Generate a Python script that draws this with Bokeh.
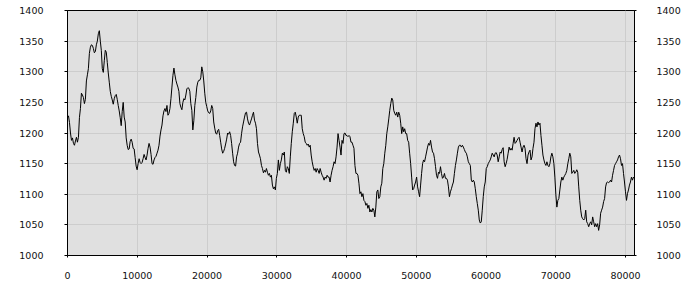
from bokeh.plotting import figure
from bokeh.models import LinearAxis, SingleIntervalTicker, Range1d
from bokeh.embed import file_html
from bokeh.resources import INLINE

# sample spacing along the x axis (data units per sample)
sample_step = 142.6

values_a = [1225, 1228, 1217, 1200, 1188, 1192, 1183, 1180, 1187, 1193, 1185, 1193, 1225, 1240, 1265, 1262,
            1258, 1248, 1255, 1285, 1295, 1305, 1330, 1340, 1344, 1343, 1338, 1331, 1333, 1344, 1350, 1362,
            1367, 1350, 1335, 1305, 1299, 1318, 1335, 1332, 1315, 1298, 1283, 1268, 1260, 1254, 1247, 1256,
            1261, 1263, 1255, 1245, 1236, 1225, 1212, 1235, 1250, 1226, 1218, 1192, 1180, 1173, 1174, 1186,
            1190, 1185, 1175, 1174, 1160, 1146, 1140, 1150, 1158, 1152, 1150, 1152, 1158, 1165, 1160, 1156,
            1164, 1175, 1183, 1177, 1165, 1150, 1149, 1156, 1160, 1162, 1167, 1172, 1180, 1195, 1205, 1213,
            1228, 1236, 1240, 1235, 1245, 1229, 1232, 1240, 1256, 1275, 1294, 1306, 1295, 1286, 1280, 1275,
            1268, 1248, 1242, 1238, 1250, 1256, 1254, 1262, 1272, 1274, 1273, 1268, 1248, 1237, 1205, 1220,
            1245, 1258, 1275, 1283, 1286, 1286, 1290, 1308, 1300, 1285, 1265, 1250, 1243, 1236, 1233, 1232,
            1236, 1245, 1240, 1218, 1208, 1200, 1198, 1204, 1206, 1196, 1185, 1174, 1167, 1170, 1175, 1182,
            1190, 1200, 1198]

values_b = [1202, 1196, 1183, 1167, 1153, 1147, 1146, 1161, 1167, 1177, 1183, 1185, 1199, 1210, 1218, 1226,
            1233, 1234, 1223, 1216, 1213, 1218, 1223, 1229, 1234, 1221, 1216, 1207, 1183, 1169, 1164, 1158,
            1147, 1142, 1135, 1139, 1136, 1142, 1136, 1131, 1134, 1128, 1131, 1115, 1109, 1112, 1107, 1126,
            1134, 1156, 1139, 1150, 1156, 1167, 1164, 1169, 1139, 1136, 1145, 1142, 1134, 1161, 1183, 1202,
            1216, 1232, 1234, 1226, 1216, 1226, 1229, 1229, 1229, 1207, 1199, 1194, 1185, 1183, 1180, 1182,
            1177, 1180, 1164, 1153, 1145, 1139, 1142, 1136, 1142, 1139, 1134, 1142, 1136, 1131, 1128, 1123,
            1128, 1126, 1131, 1128, 1128, 1120, 1131, 1139, 1145, 1153, 1150, 1161, 1177, 1199, 1188, 1177,
            1164, 1188, 1183, 1199, 1200, 1196, 1196, 1194, 1196, 1194, 1185, 1185, 1180, 1175, 1147, 1134,
            1134, 1131, 1118, 1101, 1104, 1096, 1101, 1090, 1088, 1082, 1085, 1077, 1082, 1071, 1075, 1071,
            1077, 1074, 1063, 1079, 1104, 1107, 1093, 1096, 1112, 1118, 1142, 1150, 1167, 1180, 1199, 1210,
            1223, 1237, 1248, 1257, 1254, 1237, 1232, 1229, 1234, 1226, 1234, 1229, 1216, 1199, 1210, 1202,
            1207, 1199, 1199, 1188, 1185, 1167, 1150, 1128, 1107, 1109, 1115, 1120, 1128, 1112, 1104, 1096,
            1115, 1134, 1150, 1156, 1153, 1161, 1169, 1177, 1183, 1180, 1188, 1177, 1169, 1167, 1158, 1145,
            1131, 1126, 1136, 1134, 1145, 1134, 1126, 1128, 1134, 1126, 1126, 1123, 1112, 1096, 1104, 1109,
            1115, 1120, 1134, 1147, 1156, 1167, 1177]

values_c = [1180, 1180, 1177, 1180, 1177, 1173, 1169, 1167, 1161, 1153, 1150, 1147, 1123, 1120, 1123, 1120,
            1109, 1096, 1085, 1074, 1058, 1053, 1055, 1074, 1096, 1112, 1120, 1142, 1145, 1150, 1153, 1156,
            1161, 1167, 1164, 1161, 1167, 1168, 1164, 1153, 1161, 1169, 1167, 1173, 1176, 1153, 1145, 1150,
            1157, 1167, 1177, 1172, 1175, 1172, 1183, 1193, 1183, 1185, 1188, 1191, 1193, 1185, 1177, 1169,
            1177, 1180, 1175, 1158, 1150, 1164, 1169, 1172, 1156, 1161, 1175, 1185, 1207, 1216, 1210, 1218,
            1213, 1216, 1196, 1180, 1164, 1156, 1150, 1147, 1153, 1147, 1145, 1150, 1161, 1167, 1161, 1150,
            1128, 1099, 1079, 1090, 1093, 1107, 1120, 1128, 1123, 1128, 1131, 1134, 1139, 1150, 1158, 1167,
            1161, 1134, 1136, 1139, 1134, 1136, 1140, 1136, 1112, 1090, 1074, 1063, 1060, 1058, 1060, 1074,
            1055, 1052, 1047, 1052, 1055, 1050, 1063, 1055, 1047, 1052, 1047, 1052, 1041, 1050, 1069, 1074,
            1079, 1088, 1093, 1112, 1119, 1120, 1119, 1120, 1123, 1120, 1131, 1139, 1147, 1150, 1153, 1156,
            1161, 1164, 1158, 1147, 1150, 1134, 1120, 1104, 1090, 1101, 1107, 1115, 1120, 1128, 1123, 1128,
            1126]

y_vals = values_a + values_b + values_c
x_vals = [i * sample_step for i in range(len(y_vals))]

x_ticks_step = 10000
y_ticks_step = 50

FONT = "DejaVu Sans"
FSIZE = "9.5px"

p = figure(width=700, height=300, output_backend="svg", toolbar_location=None,
           x_range=Range1d(0, 81290), y_range=Range1d(1000, 1400),
           background_fill_color="white", border_fill_color="white")
p.min_border_left = 67
p.min_border_right = 66
p.min_border_top = 10
p.min_border_bottom = 45
p.background_fill_color = "#e0e0e0"
p.outline_line_color = "black"
p.outline_line_width = 1

p.line(x_vals, y_vals, line_color="black", line_width=1)

p.xaxis.ticker = SingleIntervalTicker(interval=x_ticks_step)
p.yaxis.ticker = SingleIntervalTicker(interval=y_ticks_step)
p.xgrid.ticker = SingleIntervalTicker(interval=x_ticks_step)
p.ygrid.ticker = SingleIntervalTicker(interval=y_ticks_step)
p.grid.grid_line_color = "#cdcdcd"
p.grid.grid_line_width = 1

right = LinearAxis(ticker=SingleIntervalTicker(interval=y_ticks_step))
p.add_layout(right, "right")

for ax in p.axis:
    ax.major_label_text_font = FONT
    ax.major_label_text_font_size = FSIZE
    ax.major_label_text_color = "#111111"
    ax.minor_tick_line_color = None
    ax.axis_line_color = "black"
    ax.major_tick_line_color = "black"
    ax.major_tick_in = 0

p.xaxis.major_tick_out = 2
p.xaxis.major_label_standoff = 12
p.yaxis[0].major_tick_out = 3
p.yaxis[0].major_label_standoff = 20
right.major_tick_out = 2
right.major_label_standoff = 18
right.major_label_text_align = "left"

from bokeh.models import BasicTickFormatter
p.xaxis.formatter = BasicTickFormatter(use_scientific=False)

open("out.html", "w").write(file_html(p, INLINE))
